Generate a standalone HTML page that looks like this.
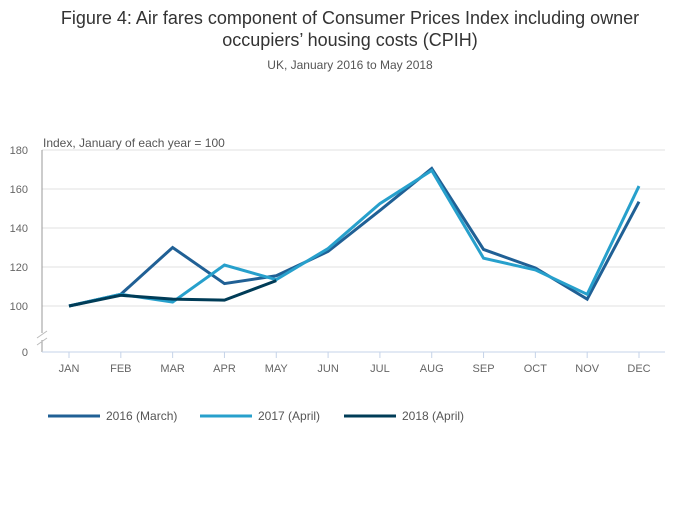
<!DOCTYPE html>
<html><head><meta charset="utf-8"><style>
body{margin:0;background:#fff;font-family:"Liberation Sans",sans-serif;}
svg text{font-family:"Liberation Sans",sans-serif;}
</style></head><body>
<svg id="chart" width="700" height="502">
<text x="350" y="24" text-anchor="middle" font-size="18" fill="#333">Figure 4: Air fares component of Consumer Prices Index including owner</text>
<text x="350" y="46" text-anchor="middle" font-size="18" fill="#333">occupiers’ housing costs (CPIH)</text>
<text x="350" y="69" text-anchor="middle" font-size="12" fill="#555">UK, January 2016 to May 2018</text>
<text x="43" y="147" font-size="12" fill="#555">Index, January of each year = 100</text>
<g id="grid"></g><g id="axes"></g><g id="series"></g><g id="legend"></g>
</svg>
<script>
const months=["JAN","FEB","MAR","APR","MAY","JUN","JUL","AUG","SEP","OCT","NOV","DEC"];
const yTicks=[100,120,140,160,180];
const s2016=[100,106,130,111.5,115.5,128,149,170.5,129,119.5,103.5,153.5];
const s2017=[100,106,102,121,113.5,129.5,152.5,169.5,124.5,118.5,106,161.5];
const s2018=[100,105.5,103.5,103,113];
const seriesNames=["2016 (March)","2017 (April)","2018 (April)"];
const colors=["#206095","#27a0cc","#003c57"];
const NS="http://www.w3.org/2000/svg";
const x=i=>69+i*(639-69)/11;
const y=v=>306-(v-100)*1.95;
function mk(t,a,p){const e=document.createElementNS(NS,t);for(const k in a)e.setAttribute(k,a[k]);p.appendChild(e);return e;}
const grid=document.getElementById('grid'),axes=document.getElementById('axes'),ser=document.getElementById('series'),leg=document.getElementById('legend');
yTicks.forEach(v=>{const l=mk('line',{x1:42,x2:665,y1:y(v),y2:y(v),stroke:'#e0e0e0'},grid);


const t=mk('text',{x:28,y:y(v)+4,'text-anchor':'end','font-size':11,fill:'#666'},axes);t.textContent=v;

});
const z=mk('text',{x:28,y:356,'text-anchor':'end','font-size':11,fill:'#666'},axes);z.textContent='0';


mk('line',{x1:42,x2:42,y1:150,y2:333,stroke:'#999'},axes);
mk('line',{x1:42,x2:42,y1:340,y2:352,stroke:'#999'},axes);
mk('path',{d:'M37,338 L47,331 M37,345 L47,338',stroke:'#bbb',fill:'none'},axes);
mk('line',{x1:42,x2:665,y1:352,y2:352,stroke:'#c5d3e8'},axes);
months.forEach((m,i)=>{mk('line',{x1:x(i),x2:x(i),y1:352,y2:358,stroke:'#c5d3e8'},axes);
const t=mk('text',{x:x(i),y:372,'text-anchor':'middle','font-size':11,fill:'#666'},axes);t.textContent=m;

});
[s2016,s2017,s2018].forEach((s,k)=>{const p=mk('polyline',{points:s.map((v,i)=>x(i)+','+y(v)).join(' '),fill:'none',stroke:colors[k],'stroke-width':3,'stroke-linejoin':'miter'},ser);


const lx=[48,200,344][k];
const g=mk('g',{},leg);


mk('line',{x1:lx,x2:lx+52,y1:416,y2:416,stroke:colors[k],'stroke-width':3},g);
const t=mk('text',{x:lx+58,y:420,'font-size':12,fill:'#555'},g);t.textContent=seriesNames[k];});
</script>
</body></html>
